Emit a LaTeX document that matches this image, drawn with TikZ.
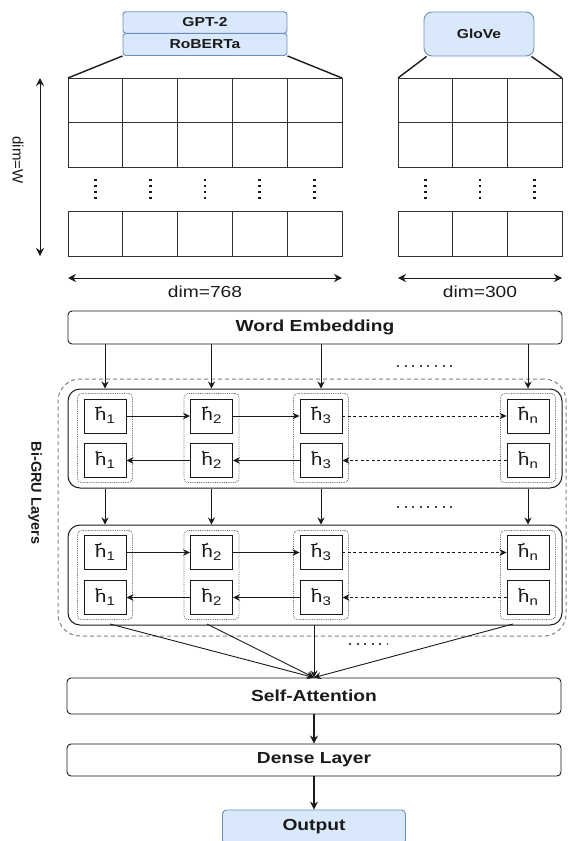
\documentclass[tikz,border=0pt]{standalone}
\usepackage{fontspec}
\setmainfont{Liberation Sans}[FakeStretch=1.2]
\newfontfamily\rotsans{Liberation Sans}
\usetikzlibrary{arrows.meta}
\definecolor{bluef}{HTML}{DAE8FC}
\definecolor{blueb}{HTML}{6C8EBF}
\definecolor{ink}{HTML}{1A1A1A}
\newcommand{\hlab}[1]{h\raisebox{-3pt}{\fontsize{12.5}{12.5}\selectfont #1}}
\begin{document}
\begin{tikzpicture}[x=1pt,y=-1pt,
  every node/.style={text=ink},
  bluebox/.style={draw=blueb, fill=bluef, line width=0.9pt, rounded corners=3pt, inner sep=0pt, font=\bfseries\fontsize{13}{13}\selectfont},
  layerbox/.style={draw=ink, line width=0.9pt, rounded corners=4pt, inner sep=0pt, minimum width=494pt, font=\bfseries\fontsize{16}{16}\selectfont},
  grubox/.style={draw=ink, line width=1pt, rounded corners=12pt, minimum width=494pt, inner sep=0pt},
  groupbox/.style={draw=ink!65, densely dotted, line width=0.8pt, rounded corners=4pt, minimum width=55pt, minimum height=89pt, inner sep=0pt},
  hcell/.style={draw=ink, line width=0.9pt, minimum width=42pt, minimum height=34pt, inner sep=0pt, font=\fontsize{17}{17}\selectfont},
  accarrow/.style={draw=ink, line width=0.6pt, -{Stealth[length=2.6pt,width=2.8pt]}},
  cellline/.style={draw=ink!90, line width=0.95pt},
  gdots/.style={draw=ink, line width=2.8pt, dash pattern=on 2.8pt off 3.2pt},
  ellip/.style={draw=ink!80, line width=2pt, dash pattern=on 2pt off 5.6pt},
  conn/.style={draw=ink, line width=1.4pt},
  dimarrow/.style={draw=ink, line width=1pt, {Stealth[length=8pt,width=8pt]}-{Stealth[length=8pt,width=8pt]}},
  varrow/.style={draw=ink, line width=0.9pt, -{Stealth[length=7pt,width=7pt]}},
  harrow/.style={draw=ink, line width=0.8pt, -{Stealth[length=7pt,width=6.5pt]}},
  harrowd/.style={harrow, dash pattern=on 3pt off 2.5pt},
  thickarrow/.style={draw=ink, line width=1.8pt, -{Stealth[length=8pt,width=8pt]}},
  lab/.style={font=\fontsize{16}{16}\selectfont}
]
\useasboundingbox (0,0) rectangle (568,841);

% ---------- embedding sources ----------
\node[bluebox, minimum width=164pt, minimum height=21.5pt] (gpt) at (205,22.5) {GPT-2};
\node[bluebox, minimum width=164pt, minimum height=22pt] (rob) at (205,44.5) {RoBERTa};
\node[bluebox, rounded corners=8pt, minimum width=110pt, minimum height=44pt] (glove) at (479,34) {GloVe};

% ---------- left grid (768) ----------
\foreach \i in {0,...,4} {
  \draw[cellline] ({68+\i*54.8},78) rectangle ++(54.8,44.5);
  \draw[cellline] ({68+\i*54.8},122.5) rectangle ++(54.8,44.5);
  \draw[cellline] ({68+\i*54.8},211) rectangle ++(54.8,45);
  \draw[gdots] ({68+(\i+0.5)*54.8},178.5) -- ({68+(\i+0.5)*54.8},200);
}
% ---------- right grid (300) ----------
\foreach \i in {0,...,2} {
  \draw[cellline] ({398+\i*54.67},78) rectangle ++(54.67,44.5);
  \draw[cellline] ({398+\i*54.67},122.5) rectangle ++(54.67,44.5);
  \draw[cellline] ({398+\i*54.67},211) rectangle ++(54.67,45);
  \draw[gdots] ({398+(\i+0.5)*54.67},178.5) -- ({398+(\i+0.5)*54.67},200);
}
\coordinate (lgTL) at (68,78);
\coordinate (lgTR) at (342,78);
\coordinate (rgTL) at (398,78);
\coordinate (rgTR) at (562,78);
\draw[conn] (rob.south west) -- (lgTL);
\draw[conn] (rob.south east) -- (lgTR);
\draw[conn] ([xshift=3pt]glove.south west) -- (rgTL);
\draw[conn] ([xshift=-3pt]glove.south east) -- (rgTR);

% ---------- dimension arrows ----------
\coordinate (wTop) at (40,78);
\coordinate (wBot) at (40,256);
\draw[dimarrow] (wTop) -- (wBot);
\node[rotate=-90, font=\rotsans\fontsize{15}{15}\selectfont] (dimW) at (18,160) {dim=W};
\coordinate (d1L) at (68,278);
\coordinate (d1R) at (342,278);
\coordinate (d2L) at (398,278);
\coordinate (d2R) at (562,278);
\draw[dimarrow] (d1L) -- (d1R);
\draw[dimarrow] (d2L) -- (d2R);
\node[lab] (dim768) at (205,292) {dim=768};
\node[lab] (dim300) at (480,292) {dim=300};

% ---------- word embedding ----------
\node[layerbox, minimum height=33pt] (we) at (315,327.5) {Word Embedding};

% ---------- Bi-GRU region ----------
\node[draw=ink!55, line width=1pt, dash pattern=on 4pt off 3pt, rounded corners=22pt, minimum width=508pt, minimum height=257pt, inner sep=0pt] (bigru) at (312,507.5) {};
\node[rotate=-90, font=\rotsans\bfseries\fontsize{14.5}{14.5}\selectfont] (bigrulab) at (35,493) {Bi-GRU Layers};

\node[grubox, minimum height=99pt] (gru1) at (315,438.5) {};
\node[grubox, minimum height=100pt] (gru2) at (315,575) {};

% cells of both layers
\foreach \n/\x/\s in {1/105/1, 2/211.5/2, 3/321/3, 4/528/n} {
  \node[groupbox] (ga\n) at (\x,438) {};
  \node[hcell] (fa\n) at (\x,416) {\hlab{\s}};
  \node[hcell] (ba\n) at (\x,460.5) {\hlab{\s}};
  \node[groupbox] (gb\n) at (\x,575) {};
  \node[hcell] (fb\n) at (\x,552.5) {\hlab{\s}};
  \node[hcell] (bb\n) at (\x,597.5) {\hlab{\s}};
  \draw[accarrow] ([shift={(-10,-8.6)}]fa\n.center) -- ++(7,0);
  \draw[accarrow] ([shift={(-10,-8.6)}]fb\n.center) -- ++(7,0);
  \draw[accarrow] ([shift={(-3,-8.6)}]ba\n.center) -- ++(-7,0);
  \draw[accarrow] ([shift={(-3,-8.6)}]bb\n.center) -- ++(-7,0);
}
\foreach \p in {a,b} {
  \draw[harrow] (f\p1.east) -- (f\p2.west);
  \draw[harrow] (f\p2.east) -- (f\p3.west);
  \draw[harrowd] (f\p3.east) -- (f\p4.west);
  \draw[harrowd] (b\p4.west) -- (b\p3.east);
  \draw[harrow] (b\p3.west) -- (b\p2.east);
  \draw[harrow] (b\p2.west) -- (b\p1.east);
}

% vertical connections
\foreach \n in {1,...,4} {
  \draw[varrow] (we.south -| ga\n.north) -- (gru1.north -| ga\n.north);
  \draw[varrow] (gru1.south -| gb\n.north) -- (gru2.north -| gb\n.north);
}
\coordinate (e1a) at (397,366);
\coordinate (e1b) at (452,366);
\coordinate (e2a) at (397,507);
\coordinate (e2b) at (452,507);
\coordinate (e3a) at (349,644);
\coordinate (e3b) at (388,644);
\draw[ellip] (e1a) -- (e1b);
\draw[ellip] (e2a) -- (e2b);
\draw[ellip] (e3a) -- (e3b);

% ---------- attention / dense / output ----------
\node[layerbox, minimum height=36pt] (sa) at (314,696) {Self-Attention};
\node[layerbox, minimum height=32pt] (dense) at (314,760) {Dense Layer};
\node[bluebox, rounded corners=4pt, minimum width=183pt, minimum height=34pt, font=\bfseries\fontsize{16}{16}\selectfont] (out) at (314,827) {Output};

\coordinate (s1) at (110,624);
\coordinate (s2) at (207,624);
\coordinate (s3) at (314,625);
\coordinate (s4) at (513,624);
\foreach \s in {s1,s2,s3,s4} \draw[varrow] (\s) -- (sa.north);
\draw[thickarrow] (sa.south) -- (dense.north);
\draw[thickarrow] (dense.south) -- (out.north);
\end{tikzpicture}
\end{document}
